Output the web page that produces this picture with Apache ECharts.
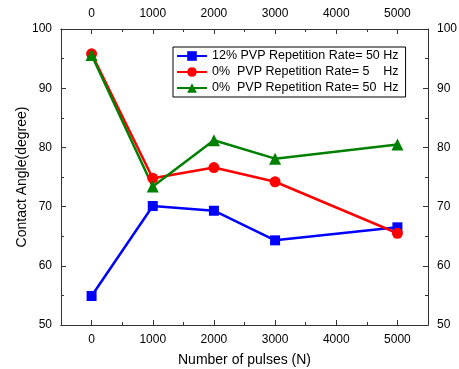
<!DOCTYPE html>
<html><head><meta charset="utf-8">
<script src="https://cdn.jsdelivr.net/npm/echarts@6/dist/echarts.min.js"></script>
<style>html,body{margin:0;padding:0;background:#fff}#c{width:459px;height:369px}</style>
</head><body><div id="c"></div>
<script>
const pulses = [0, 1000, 2000, 3000, 5000];
const blue12pct50Hz = [54.9, 70.1, 69.3, 64.3, 66.5];
const red0pct5Hz = [95.8, 74.8, 76.6, 74.2, 65.5];
const green0pct50Hz = [95.6, 73.4, 81.2, 78.1, 80.5];
const seriesNames = ['12% PVP Repetition Rate= 50 Hz', '0%  PVP Repetition Rate= 5    Hz', '0%  PVP Repetition Rate= 50  Hz'];
const xMajor = [0, 1000, 2000, 3000, 4000, 5000];
const xMinor = [500, 1500, 2500, 3500, 4500];

const font = 'Liberation Sans, Arial, sans-serif';
const zip = arr => pulses.map((p, i) => [p, arr[i]]);

function xAxisDef(pos, major, labels) {
  return {
    type: 'value', position: pos, min: -500, max: 5500,
    axisLine: {show: true, onZero: false, lineStyle: {color: '#333', width: 1}},
    axisTick: {show: true, inside: true, length: major ? 5 : 3, customValues: major ? xMajor : xMinor, lineStyle: {color: '#333'}},
    axisLabel: {show: labels, customValues: xMajor, color: '#000', fontFamily: font, fontSize: 12, margin: 9,
                formatter: v => String(v)},
    splitLine: {show: false}
  };
}
function yAxisDef(pos) {
  return {
    type: 'value', position: pos, min: 50, max: 100, interval: 10,
    axisLine: {show: true, onZero: false, lineStyle: {color: '#333', width: 1}},
    axisTick: {show: true, inside: true, length: 5, lineStyle: {color: '#333'}},
    minorTick: {show: true, splitNumber: 2, length: 3, lineStyle: {color: '#333'}},
    axisLabel: {color: '#000', fontFamily: font, fontSize: 12, margin: 9},
    splitLine: {show: false}
  };
}

const xb = xAxisDef('bottom', true, true);
xb.name = 'Number of pulses (N)';
xb.nameLocation = 'middle';
xb.nameGap = 28;
xb.nameMoveOverlap = false;
xb.nameTextStyle = {color: '#000', fontFamily: font, fontSize: 14};
const yl = yAxisDef('left');
yl.name = 'Contact Angle(degree)';
yl.nameLocation = 'middle';
yl.nameGap = 32;
yl.nameMoveOverlap = false;
yl.nameTextStyle = {color: '#000', fontFamily: font, fontSize: 14};

const chart = echarts.init(document.getElementById('c'), null, {renderer: 'canvas'});
chart.setOption({
  animation: false,
  backgroundColor: '#fff',
  grid: {left: 61, right: 31, top: 29, bottom: 44, containLabel: false, outerBoundsMode: 'none'},
  xAxis: [xb, xAxisDef('top', true, true), xAxisDef('bottom', false, false), xAxisDef('top', false, false)],
  yAxis: [yl, yAxisDef('right')],
  legend: {
    orient: 'vertical', left: 173, top: 47,
    backgroundColor: '#fff', borderColor: '#000', borderWidth: 1, borderRadius: 0,
    padding: [2, 7, 2, 3], itemGap: 2, itemWidth: 30, itemHeight: 12,
    textStyle: {color: '#000', fontFamily: font, fontSize: 12.5, lineHeight: 14},
    data: seriesNames
  },
  series: [
    {name: seriesNames[0], type: 'line', xAxisIndex: 0, yAxisIndex: 0, data: zip(blue12pct50Hz),
     color: '#0000ff', symbol: 'rect', symbolSize: 10, lineStyle: {width: 2.5}, itemStyle: {color: '#0000ff'}},
    {name: seriesNames[1], type: 'line', xAxisIndex: 0, yAxisIndex: 0, data: zip(red0pct5Hz),
     color: '#ff0000', symbol: 'circle', symbolSize: 11, lineStyle: {width: 2.5}, itemStyle: {color: '#ff0000'}},
    {name: seriesNames[2], type: 'line', xAxisIndex: 0, yAxisIndex: 0, data: zip(green0pct50Hz),
     color: '#008000', symbol: 'triangle', symbolSize: 12, lineStyle: {width: 2.5}, itemStyle: {color: '#008000'}}
  ]
});
</script></body></html>
